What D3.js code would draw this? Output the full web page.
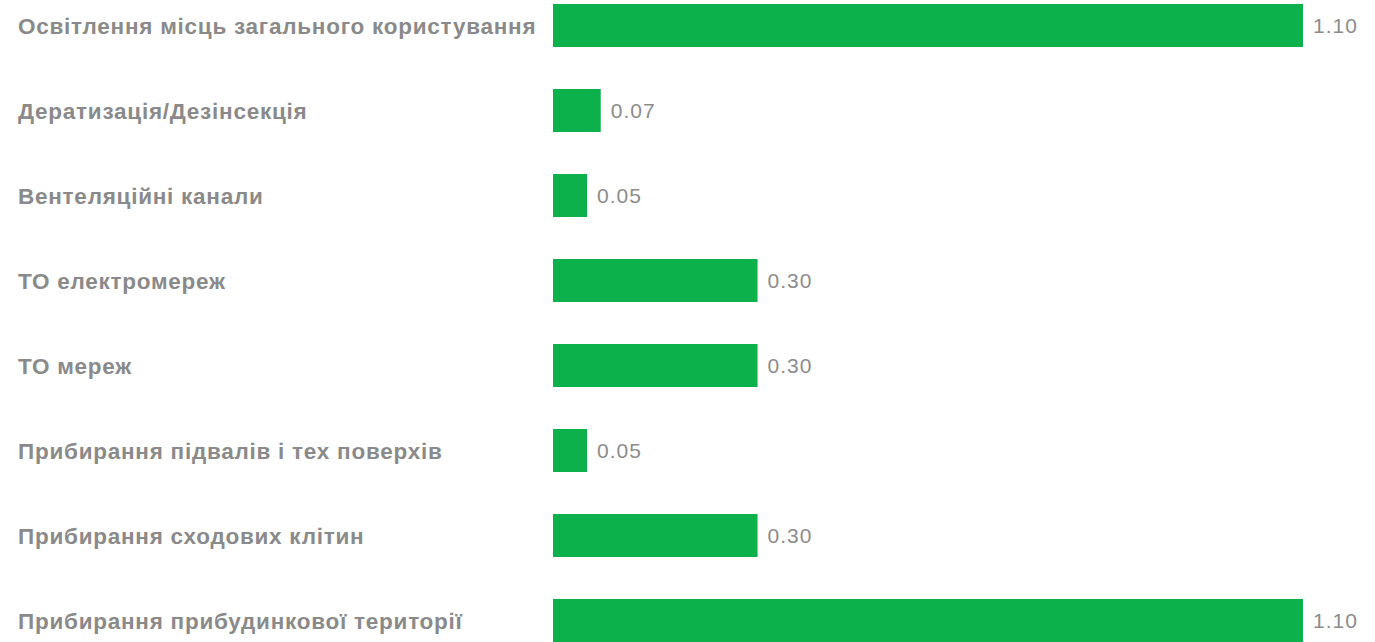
<!DOCTYPE html>
<html>
<head>
<meta charset="utf-8">
<script src="https://cdn.jsdelivr.net/npm/d3@7"></script>
<style>
body { margin: 0; background: #fff; }
svg { display: block; }
</style>
</head>
<body>
<svg width="1375" height="642"></svg>
<script>
var categories = [
 "Освітлення місць загального користування",
 "Дератизація/Дезінсекція",
 "Вентеляційні канали",
 "ТО електромереж",
 "ТО мереж",
 "Прибирання підвалів і тех поверхів",
 "Прибирання сходових клітин",
 "Прибирання прибудинкової території"
];
var values = [1.10, 0.07, 0.05, 0.30, 0.30, 0.05, 0.30, 1.10];

var svg = d3.select("svg"),
 width = +svg.attr("width"),
 height = +svg.attr("height");

var x = d3.scaleLinear()
 .domain([0, 1.10])
 .range([553, 1303]);

var y = d3.scaleBand()
 .domain(categories)
 .range([4 - 21, 4 + 85 * 8 - 21])
 .paddingInner(42 / 85)
 .paddingOuter(21 / 85);

// bars
svg.append("g")
 .selectAll("rect")
 .data(values)
 .enter().append("rect")
 .attr("x", x(0))
 .attr("y", function (d, i) { return y(categories[i]); })
 .attr("width", function (d) { return x(d) - x(0); })
 .attr("height", y.bandwidth())
 .attr("fill", "#0db14b");

// category labels
svg.append("g")
 .selectAll("text")
 .data(categories)
 .enter().append("text")
 .attr("x", 18)
 .attr("y", function (d) { return y(d) + y.bandwidth() / 2; })
 .attr("dy", "0.36em")
 .attr("font-family", "'Liberation Sans', Arial, sans-serif")
 .attr("font-weight", "bold")
 .attr("font-size", 22.5)
 .attr("letter-spacing", 0.75)
 .attr("fill", "#8a8a8a")
 .text(function (d) { return d; });

// value labels
svg.append("g")
 .selectAll("text")
 .data(values)
 .enter().append("text")
 .attr("x", function (d) { return x(d) + 10; })
 .attr("y", function (d, i) { return y(categories[i]) + y.bandwidth() / 2; })
 .attr("dy", "0.36em")
 .attr("font-family", "'Liberation Sans', Arial, sans-serif")
 .attr("font-size", 21)
 .attr("letter-spacing", 1)
 .attr("fill", "#8c8c8c")
 .text(function (d) { return d.toFixed(2); });
</script>
</body>
</html>
